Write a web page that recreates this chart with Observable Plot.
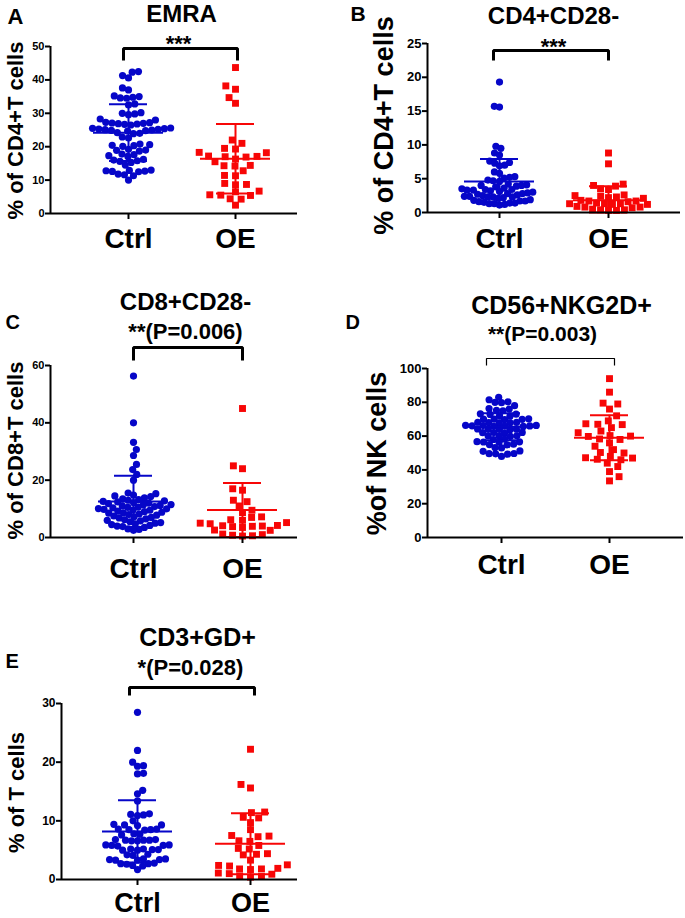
<!DOCTYPE html>
<html>
<head>
<meta charset="utf-8">
<script src="https://cdn.jsdelivr.net/npm/d3@7"></script>
<script src="https://cdn.jsdelivr.net/npm/@observablehq/plot@0.6"></script>
<style>
html,body{margin:0;padding:0;background:#fff;}
#fig{position:relative;width:685px;height:918px;overflow:hidden;background:#fff;}
#fig > div{position:absolute;}
#fig svg{display:block;overflow:visible;}
</style>
</head>
<body>
<div id="fig"></div>
<script>
// ---------------- data ----------------
const groups = ["Ctrl", "OE"];
const panelLetters = ["A", "B", "C", "D", "E"];
const titles = ["EMRA", "CD4+CD28-", "CD8+CD28-", "CD56+NKG2D+", "CD3+GD+"];
const statLabels = ["***", "***", "**(P=0.006)", "**(P=0.003)", "*(P=0.028)"];
const yLabels = ["% of CD4+T cells", "% of CD4+T cells", "% of CD8+T cells", "%of NK cells", "% of T cells"];
const yTicks = [[0, 10, 20, 30, 40, 50], [0, 5, 10, 15, 20, 25], [0, 20, 40, 60], [0, 20, 40, 60, 80, 100], [0, 10, 20, 30]];

const emraCtrl = [42.3, 42.5, 41.3, 40.6, 37.0, 37.6, 35.2, 34.8, 34.5, 35.0, 34.6, 32.8, 32.5, 30.2, 29.8, 30.0, 29.6, 28.3, 28.0, 27.3, 27.0, 26.8, 27.2, 26.9, 26.5, 26.7, 27.1, 25.5, 25.3, 25.0, 24.8, 25.4, 25.1, 24.9, 25.6, 25.2, 24.7, 24.2, 23.9, 24.0, 22.9, 22.6, 20.6, 20.3, 20.8, 20.4, 20.1, 19.2, 18.9, 18.7, 19.0, 17.6, 17.3, 17.8, 17.1, 16.0, 15.8, 16.2, 15.6, 15.3, 14.5, 13.0, 12.8, 12.6, 12.9, 12.5, 12.7, 11.6, 11.3, 11.8, 10.0];
const emraOE = [43.7, 38.2, 37.2, 34.7, 33.0, 22.0, 21.0, 19.5, 19.3, 18.3, 18.2, 17.0, 17.1, 16.9, 17.2, 16.3, 15.5, 14.3, 14.2, 14.4, 12.8, 11.3, 11.4, 9.0, 8.6, 8.7, 6.7, 6.5, 5.5, 5.4, 5.6, 4.3, 4.4, 2.5];

const cd4Ctrl = [19.3, 15.7, 15.6, 9.8, 9.5, 8.8, 8.5, 7.6, 7.4, 7.3, 7.0, 6.9, 6.0, 5.8, 5.3, 5.2, 5.1, 4.8, 4.7, 4.6, 4.2, 4.1, 4.0, 3.9, 4.0, 3.8, 3.5, 3.4, 3.3, 3.2, 3.3, 3.4, 3.1, 3.6, 3.0, 2.9, 2.8, 2.7, 2.8, 2.6, 2.5, 2.4, 2.3, 2.2, 2.3, 2.4, 2.1, 2.3, 1.9, 1.8, 1.7, 1.6, 1.7, 1.5, 1.4, 1.3, 1.2, 1.3, 1.1, 1.4];
const cd4OE = [8.8, 7.2, 4.2, 4.0, 3.9, 3.5, 3.4, 2.6, 2.5, 2.4, 2.2, 2.1, 2.3, 1.8, 1.7, 1.6, 1.7, 1.3, 1.2, 1.4, 1.3, 1.2, 1.3, 0.8, 0.9, 0.7, 0.8, 0.4, 0.3, 0.5, 0.4, 0.3];

const cd8Ctrl = [56.3, 40.0, 33.2, 30.7, 28.6, 25.5, 23.7, 22.0, 20.0, 15.5, 15.3, 14.8, 14.5, 14.3, 13.8, 13.5, 13.2, 13.0, 12.8, 12.6, 12.4, 12.2, 12.0, 11.8, 11.5, 11.4, 11.2, 11.0, 10.8, 10.6, 10.5, 10.3, 10.1, 10.0, 9.8, 9.6, 9.5, 9.2, 9.0, 8.8, 8.6, 8.5, 8.2, 8.0, 7.8, 7.5, 7.2, 7.0, 6.8, 6.5, 6.2, 6.0, 5.8, 5.5, 5.2, 5.0, 4.8, 4.5, 4.2, 4.0, 3.8, 3.5, 3.0, 2.8, 2.5];
const cd8OE = [45.0, 25.0, 24.0, 17.0, 16.5, 13.0, 12.5, 11.0, 9.5, 8.7, 7.0, 7.2, 6.0, 6.2, 5.0, 5.2, 4.8, 4.0, 4.2, 3.8, 4.1, 3.9, 3.5, 2.5, 2.6, 1.0, 1.2, 0.8, 0.5, 0.6];

const nkCtrl = [83, 81.5, 80, 80.3, 79.8, 78, 76, 76.3, 75, 75.2, 73, 73.2, 72.8, 72, 71.8, 70, 70.2, 69.8, 70.1, 69.9, 68, 68.2, 67.8, 68.1, 67.9, 66, 66.2, 65.8, 66.1, 65.9, 66.3, 65.7, 66.4, 64, 64.2, 63.8, 64.1, 63.9, 62, 62.2, 61.8, 62.1, 60, 60.2, 59.8, 60.1, 58, 58.2, 56.5, 56.7, 56.3, 56.6, 55, 55.2, 54.8, 53, 53.2, 51, 51.2, 49.5, 49.7, 49.3, 49.6, 48];
const nkOE = [94, 86, 79, 79.5, 76, 72, 69, 67, 67.3, 66.8, 65, 63, 62, 60, 60.3, 59.8, 58, 58.3, 56, 54, 52, 50, 50.3, 48, 47, 47.2, 46, 46.3, 44, 42, 39, 36, 33.5];

const gdCtrl = [28.5, 22, 20, 19.3, 19.4, 18, 18.1, 15.2, 14.6, 13.4, 11, 11.1, 10.9, 11.2, 10, 9.3, 9.2, 9.4, 9.3, 8.5, 8.6, 8.4, 8.5, 8.6, 7.7, 7.8, 7.6, 6.7, 6.8, 6.6, 6.7, 6.8, 6.6, 6.7, 5.8, 5.9, 5.7, 5.8, 5.9, 5.1, 5.2, 5.0, 5.1, 5.2, 5.0, 4.2, 4.3, 4.1, 3.4, 3.5, 3.3, 3.4, 3.5, 3.3, 2.7, 2.8, 2.6, 2.7, 2.3, 2.4, 1.7];
const gdOE = [22.2, 16.2, 15.6, 11.5, 11.4, 10.5, 10.6, 9.7, 8.5, 7.4, 7.3, 7.5, 6.5, 6.6, 5.8, 5.2, 5.3, 4.3, 4.4, 4.2, 3.3, 2.4, 2.5, 2.3, 1.8, 1.9, 1.7, 1.8, 1.0, 1.1, 0.9, 0.5, 0.6, 0.4];

const ctrlSeries = [emraCtrl, cd4Ctrl, cd8Ctrl, nkCtrl, gdCtrl];
const oeSeries = [emraOE, cd4OE, cd8OE, nkOE, gdOE];

// mean and SD
const meanCtrl = [24.2, 4.6, 12.6, 65.5, 8.2];
const sdCtrl = [8.5, 3.3, 8.9, 8.0, 5.3];
const meanOE = [16.4, 1.8, 9.6, 59.0, 6.1];
const sdOE = [10.4, 2.1, 9.4, 13.3, 5.2];

// ---------------- layout (page pixels) ----------------
const BLUE = "#0606c8";
const RED = "#f70606";
const FONT = "'Liberation Sans', Arial, Helvetica, sans-serif";

const layout = [
  {box: [0, 0, 340, 262], frame: [50, 297, 46, 213], pos: [128, 235],
   title: [181, 21, 24], stat: [178, 50, 22], letter: [7, 23, 22], ylab: [22, 130, 22],
   cat: [247, 28], tickFont: 11, sCtrl: [6.3, 7], sOE: [11, 7], bracket: [123, 237, 48, 60, 3]},
  {box: [340, 0, 345, 262], frame: [427, 680, 43, 212], pos: [499, 608],
   title: [553, 23, 24], stat: [553, 53, 22], letter: [350, 20, 21], ylab: [392, 125, 27],
   cat: [247, 28], tickFont: 13, sCtrl: [5.2, 7], sOE: [8, 7], bracket: [493, 608, 50, 60, 3]},
  {box: [0, 280, 340, 300], frame: [50, 297, 365, 537], pos: [133, 242],
   title: [185, 309, 24], stat: [185, 338, 22], letter: [5, 328, 20], ylab: [22, 450, 22],
   cat: [577, 28], tickFont: 11, sCtrl: [5.6, 7], sOE: [10, 7], bracket: [133, 242, 347, 360, 3]},
  {box: [340, 280, 345, 300], frame: [427, 683, 368, 537], pos: [501, 609],
   title: [561, 313, 25], stat: [542, 340, 21], letter: [345, 328, 20], ylab: [385, 453, 27],
   cat: [573, 28], tickFont: 13, sCtrl: [6.5, 6], sOE: [12, 7], bracket: [486, 614, 358, 365, 1.2]},
  {box: [0, 600, 340, 318], frame: [61, 297, 703, 879], pos: [137, 250],
   title: [197, 645, 25], stat: [190, 674, 22], letter: [5, 667, 20], ylab: [23, 792, 22],
   cat: [911, 27], tickFont: 12, sCtrl: [6, 7], sOE: [11, 7], bracket: [129, 254, 687, 695, 3]}
];
const MEAN_HALF = 35, SD_HALF = 19;

// beeswarm offsets in pixels (elliptical spacing sx, sy)
function swarm(values, pxPerUnit, sx, sy) {
  const idx = d3.range(values.length).sort((a, b) => values[a] - values[b]);
  const placed = [];
  const off = new Array(values.length);
  let n = 0;
  for (const i of idx) {
    const y = values[i] * pxPerUnit / sy;
    const cands = [0];
    for (const p of placed) {
      const dy = Math.abs(p.y - y);
      if (dy < 1) {
        const dx = Math.sqrt(1 - dy * dy);
        cands.push(p.x + dx, p.x - dx);
      }
    }
    const pref = n % 2 ? 1 : -1;
    cands.sort((a, b) => (Math.abs(a) - Math.abs(b)) || (pref * (b - a)));
    let x = 0;
    for (const c of cands) {
      if (placed.every(p => (p.x - c) ** 2 + (p.y - y) ** 2 >= 1 - 1e-9)) { x = c; break; }
    }
    placed.push({x, y});
    off[i] = x * sx;
    n++;
  }
  return off;
}

const fig = document.getElementById("fig");

layout.forEach((L, i) => {
  const [bx, by, bw, bh] = L.box;
  const [fx0, fx1, fy0, fy1] = L.frame;
  const k = L.pos[1] - L.pos[0];               // px per x unit
  const d0 = 1 - (L.pos[0] - fx0) / k;
  const d1 = 2 + (fx1 - L.pos[1]) / k;
  const ticks = yTicks[i];
  const ymax = ticks[ticks.length - 1];
  const pxu = (fy1 - fy0) / ymax;              // px per y unit
  const pageY = p => (fy1 - p) / pxu;
  const pageX = p => 1 + (p - L.pos[0]) / k;

  const ctrl = ctrlSeries[i], oe = oeSeries[i];
  const offC = swarm(ctrl, pxu, L.sCtrl[0], L.sCtrl[1]);
  const offO = swarm(oe, pxu, L.sOE[0], L.sOE[1]);
  const ptsC = ctrl.map((v, j) => ({x: 1 + offC[j] / k, y: v}));
  const ptsO = oe.map((v, j) => ({x: 2 + offO[j] / k, y: v}));

  const stats = [
    {g: 1, m: meanCtrl[i], s: sdCtrl[i], c: BLUE},
    {g: 2, m: meanOE[i], s: sdOE[i], c: RED}
  ];
  const caps = stats.flatMap(d => [
    {g: d.g, y: d.m + d.s, c: d.c},
    {g: d.g, y: Math.max(0, d.m - d.s), c: d.c}
  ]);

  const [bx1, bx2, byTop, byLeg, bsw] = L.bracket;
  const bracket = [
    {x: pageX(bx1), y: pageY(byLeg)}, {x: pageX(bx1), y: pageY(byTop)},
    {x: pageX(bx2), y: pageY(byTop)}, {x: pageX(bx2), y: pageY(byLeg)}
  ];

  const plot = Plot.plot({
    width: bw,
    height: bh,
    marginLeft: fx0 - bx,
    marginRight: bx + bw - fx1,
    marginTop: fy0 - by,
    marginBottom: by + bh - fy1,
    x: {type: "linear", domain: [d0, d1]},
    y: {domain: [0, ymax]},
    style: {fontFamily: FONT, fontWeight: "bold", color: "#000", background: "transparent", overflow: "visible"},
    marks: [
      // points
      Plot.dot(ptsC, {x: "x", y: "y", r: 3.6, fill: BLUE, symbol: "circle"}),
      Plot.dot(ptsO, {x: "x", y: "y", r: 3.9, fill: RED, symbol: "square"}),
      // mean and SD
      Plot.ruleY(stats, {y: "m", x1: d => d.g - MEAN_HALF / k, x2: d => d.g + MEAN_HALF / k, stroke: "c", strokeWidth: 2}),
      Plot.ruleY(caps, {y: "y", x1: d => d.g - SD_HALF / k, x2: d => d.g + SD_HALF / k, stroke: "c", strokeWidth: 2}),
      Plot.ruleX(stats, {x: "g", y1: d => Math.max(0, d.m - d.s), y2: d => d.m + d.s, stroke: "c", strokeWidth: 2}),
      // axes
      Plot.ruleY([0], {stroke: "#000", strokeWidth: 2}),
      Plot.ruleX([d0], {y1: 0, y2: ymax, stroke: "#000", strokeWidth: 2}),
      Plot.axisY({ticks: ticks, tickSize: 5, tickPadding: 1, fontSize: L.tickFont, fontWeight: "bold", fill: "#000",
                  stroke: "#000", strokeWidth: 2, label: null, tickFormat: d3.format("d")}),
      Plot.axisX({ticks: [1, 2], tickSize: 6, tickPadding: L.cat[0] - fy1 - 6 - 0.71 * L.cat[1],
                  fontSize: L.cat[1], fontWeight: "bold", fill: "#000", stroke: "#000", strokeWidth: 2,
                  label: null, tickFormat: d => groups[d - 1]}),
      // significance bracket
      Plot.line(bracket, {x: "x", y: "y", stroke: "#000", strokeWidth: bsw, strokeLinejoin: "miter", strokeLinecap: "butt"}),
      // texts
      Plot.text([titles[i]], {frameAnchor: "top-left", dx: L.title[0] - fx0, dy: L.title[1] - fy0,
                  textAnchor: "middle", lineAnchor: "bottom", fontSize: L.title[2], fill: "#000"}),
      Plot.text([statLabels[i]], {frameAnchor: "top-left", dx: L.stat[0] - fx0, dy: L.stat[1] - fy0,
                  textAnchor: "middle", lineAnchor: "bottom", fontSize: L.stat[2], fill: "#000"}),
      Plot.text([panelLetters[i]], {frameAnchor: "top-left", dx: L.letter[0] - fx0, dy: L.letter[1] - fy0,
                  textAnchor: "start", lineAnchor: "bottom", fontSize: L.letter[2], fill: "#000"}),
      Plot.text([yLabels[i]], {frameAnchor: "top-left", dx: L.ylab[0] - fx0, dy: L.ylab[1] - fy0, rotate: -90,
                  textAnchor: "middle", lineAnchor: "bottom", fontSize: L.ylab[2], fill: "#000"})
    ]
  });
  const holder = document.createElement("div");
  holder.style.left = bx + "px";
  holder.style.top = by + "px";
  holder.style.width = bw + "px";
  holder.style.height = bh + "px";
  holder.appendChild(plot);
  fig.appendChild(holder);
});
</script>
</body>
</html>
